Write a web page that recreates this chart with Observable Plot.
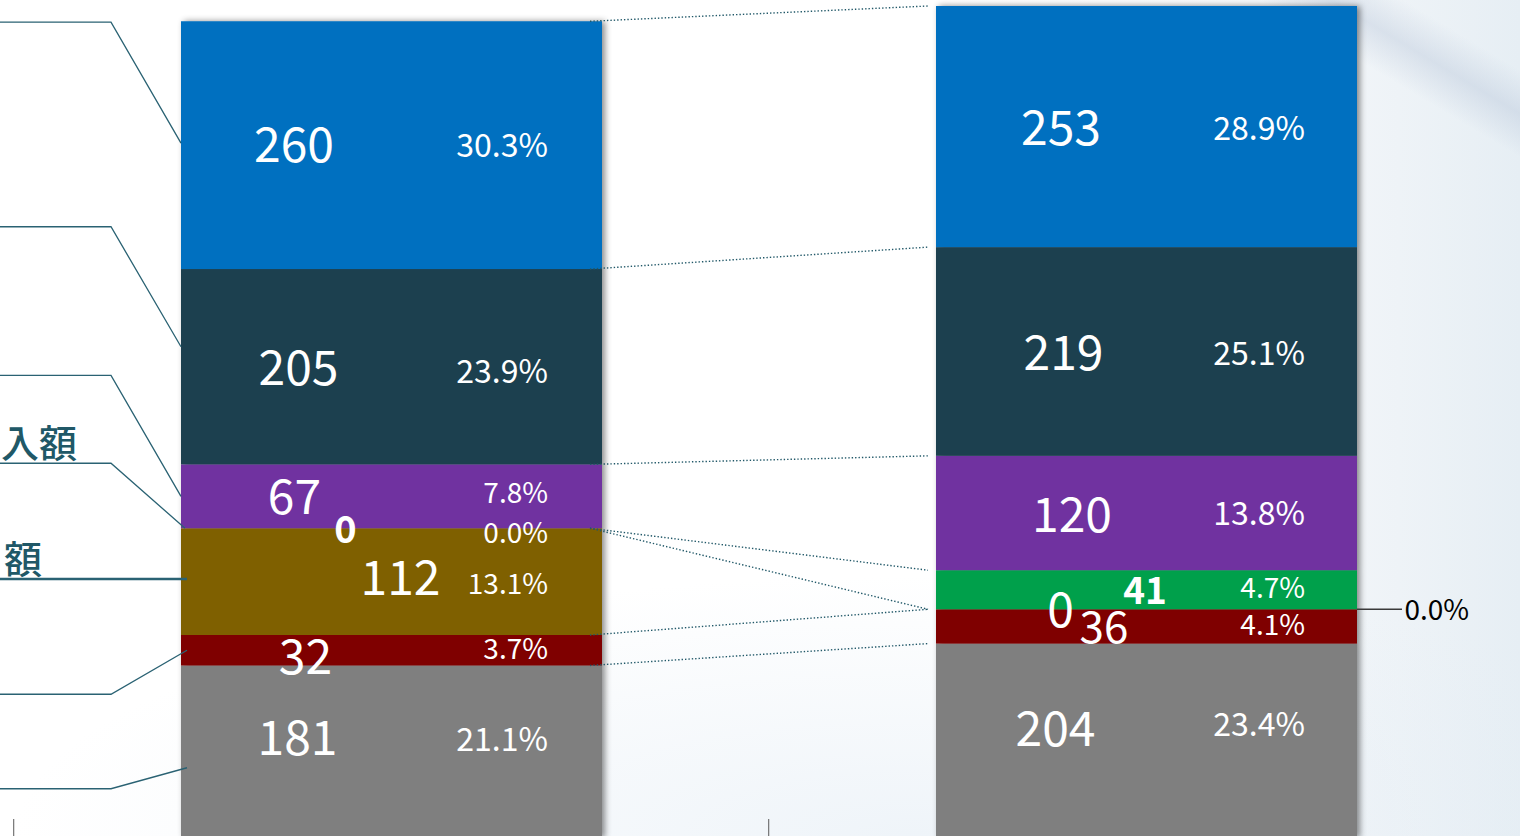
<!DOCTYPE html>
<html>
<head>
<meta charset="utf-8">
<script src="https://cdn.jsdelivr.net/npm/d3@7"></script>
<script src="https://cdn.jsdelivr.net/npm/@observablehq/plot@0.6"></script>
<style>
  html, body { margin: 0; padding: 0; overflow: hidden; }
  body {
    width: 1520px; height: 836px;
    background:
      linear-gradient(31deg, rgba(255,255,255,0) 91%, rgba(175,190,212,0.35) 93.5%, rgba(255,255,255,0) 96%),
      radial-gradient(ellipse 900px 260px at 60% 100%, rgba(228,237,245,0.6) 0%, rgba(255,255,255,0) 100%),
      linear-gradient(90deg, #ffffff 0%, #ffffff 62%, #f8fafc 80%, #eef3f7 92%, #e6eef4 100%);
  }
  #chart svg { display: block; }
</style>
</head>
<body>
<div id="chart"></div>
<script>
// ---------------- data ----------------
const bars = ["前期", "当期"];                      // two stacked columns (axis labels cropped out)
// series, bottom -> top
const series = ["s7", "s6", "s5", "s4", "s3", "s2", "s1"];
const valuesLeft  = [181, 32, 112, 0, 67, 205, 260];
const valuesRight = [204, 36, 0, 41, 120, 219, 253];
const pctLeft  = [21.1, 3.7, 13.1, 0.0, 7.8, 23.9, 30.3];
const pctRight = [23.4, 4.1, 0.0, 4.7, 13.8, 25.1, 28.9];
const colors = ["#7f7f7f", "#7f0000", "#7f6000", "#00a04b", "#7030a0", "#1b4050", "#0070c0"];
// visible part of the series-name labels at the left edge (series index -> text)
const seriesLabels = [{i: 3, text: "入額"}, {i: 2, text: "額"}];

// ---------------- layout (styles / offsets only) ----------------
const layoutLeft = {
  vdx: [-94.5, -86.5, 8.5, -46.5, -97.5, -93.5, -98],
  vdy: [-13, 7.5, -3, 2, 2, 2, 1],
  vsize: [48, 48, 48, 38, 48, 48, 48],
  vbold: [0, 0, 0, 1, 0, 0, 0],
  pdx: 156,
  pdy: [-11.6, -1, 2.4, 5.7, -2.4, 6, 1],
  psize: [32, 28, 28, 28, 28, 32, 32],
  pout: [0, 0, 0, 0, 0, 0, 0]
};
const layoutRight = {
  vdx: [-91.5, -43, -86.5, -2, -75, -83.5, -86],
  vdy: [-11, 2, 2, 2, 3, 2.3, 3],
  vsize: [48, 44, 48, 37, 48, 48, 48],
  vbold: [0, 0, 0, 1, 0, 0, 0],
  pdx: 158,
  pdy: [-16, -0.4, 1, -1.7, 1, 2.5, 2.4],
  psize: [32, 28, 28, 28, 32, 32, 32],
  pout: [0, 0, 1, 0, 0, 0, 0]
};
// left leader lines: offsets (px) from the segment middle at the left bar's left edge
const leaders = [
  {i: 6, endDx: 0, endDy: -2,   elbowDy: -121, w: 1.3},
  {i: 5, endDx: 0, endDy: -20,  elbowDy: -120, w: 1.3},
  {i: 4, endDx: 0, endDy: 0,    elbowDy: -121, w: 1.3},
  {i: 3, endDx: 4, endDy: 0,    elbowDy: -65,  w: 1.3},
  {i: 2, endDx: 6, endDy: -2.6, elbowDy: 0,    w: 2.6},
  {i: 1, endDx: 6, endDy: 0,    elbowDy: 44,   w: 1.3},
  {i: 0, endDx: 6, endDy: 16,   elbowDy: 21,   w: 1.3}
];

const W = 1520, H = 836;
const FONT = "'Noto Sans CJK JP', 'Noto Sans', sans-serif";
const marginLeft = 181, marginRight = 162.5, padInner = 0.4428;
const xb = d3.scaleBand().domain(bars).range([marginLeft, W - marginRight])
  .paddingInner(padInner).paddingOuter(0).align(0.5);
const bw = xb.bandwidth(), step = xb.step();

// stacked rows
const rows = [];
bars.forEach((b, bi) => {
  const vals = bi === 0 ? valuesLeft : valuesRight;
  const pcts = bi === 0 ? pctLeft : pctRight;
  let acc = 0;
  series.forEach((s, i) => {
    const v = vals[i];
    rows.push({bar: b, bi, series: s, i, value: v, pct: pcts[i],
      y1: acc, y2: acc + v, mid: acc + v / 2, color: colors[i]});
    acc += v;
  });
});
const rowOf = (bi, i) => rows.find(r => r.bi === bi && r.i === i);

const marks = [];
marks.push(Plot.barY(rows, {x: "bar", y1: "y1", y2: "y2", fill: "color"}));

// series lines (dotted connectors between stacked tops)
marks.push((index, scales) => {
  const g = d3.create("svg:g");
  const xA = scales.x(bars[0]) + bw, xB = scales.x(bars[1]);
  series.forEach((s, i) => {
    const a = rowOf(0, i), b = rowOf(1, i);
    g.append("line")
      .attr("x1", xA - 12).attr("x2", xB - 8)
      .attr("y1", scales.y(a.y2)).attr("y2", scales.y(b.y2))
      .attr("stroke", "#215868").attr("stroke-width", 1.4)
      .attr("stroke-dasharray", "1.4 2");
  });
  return g.node();
});

// value & percent labels
rows.forEach(r => {
  const L = r.bi === 0 ? layoutLeft : layoutRight;
  marks.push(Plot.text([r], {
    x: "bar", y: "mid", text: d => String(d.value),
    dx: L.vdx[r.i], dy: L.vdy[r.i], fontSize: L.vsize[r.i],
    fontWeight: L.vbold[r.i] ? "bold" : "normal",
    fill: "white", textAnchor: "middle", fontFamily: FONT
  }));
  if (L.pout[r.i]) {
    marks.push(Plot.text([r], {
      x: "bar", y: "y2", text: d => d.pct.toFixed(1) + "%",
      dx: bw / 2 + 47, dy: L.pdy[r.i], fontSize: L.psize[r.i],
      fill: "#000", textAnchor: "start", fontFamily: FONT
    }));
  } else {
    marks.push(Plot.text([r], {
      x: "bar", y: "mid", text: d => d.pct.toFixed(1) + "%",
      dx: L.pdx, dy: L.pdy[r.i], fontSize: L.psize[r.i],
      fill: "white", textAnchor: "end", fontFamily: FONT
    }));
  }
});

// leader for outside label + left leader lines + series-name labels + category boundary ticks
marks.push((index, scales, values, dims) => {
  const g = d3.create("svg:g");
  bars.forEach((b, bi) => {
    const L = bi === 0 ? layoutLeft : layoutRight;
    L.pout.forEach((o, i) => {
      if (!o) return;
      const r = rowOf(bi, i);
      const x0 = scales.x(b) + bw, y0 = scales.y(r.y2);
      g.append("line").attr("x1", x0).attr("x2", x0 + 45).attr("y1", y0).attr("y2", y0)
        .attr("stroke", "#3a3a3a").attr("stroke-width", 1.6);
    });
  });
  const left = scales.x(bars[0]);
  leaders.forEach(l => {
    const r = rowOf(0, l.i);
    const ex = left + l.endDx, ey = scales.y(r.mid) + l.endDy;
    const elx = left - 70, ely = ey + l.elbowDy;
    const pts = l.elbowDy === 0 ? [[left - 400, ey], [ex, ey]] : [[left - 400, ely], [elx, ely], [ex, ey]];
    g.append("path").attr("d", d3.line()(pts)).attr("fill", "none")
      .attr("stroke", "#2a6273").attr("stroke-width", l.w);
    const lab = seriesLabels.find(s => s.i === l.i);
    if (lab) {
      const endX = l.i === 3 ? left - 104 : left - 139;
      g.append("text").attr("x", endX).attr("y", ely - 6)
        .attr("text-anchor", "end").attr("font-family", FONT)
        .attr("font-size", 38).attr("font-weight", 500).attr("fill", "#205867")
        .text(lab.text);
    }
  });
  const yb = dims.height;
  [...bars.map(b => scales.x(b) - (step - bw) / 2), scales.x(bars[bars.length - 1]) + bw + (step - bw) / 2]
    .forEach(x => {
      g.append("line").attr("x1", x).attr("x2", x).attr("y1", yb - 17).attr("y2", yb)
        .attr("stroke", "#595959").attr("stroke-width", 1);
    });
  return g.node();
});

const plot = Plot.plot({
  width: W, height: H,
  marginLeft, marginRight, marginTop: 0, marginBottom: 0,
  style: {background: "transparent", fontFamily: FONT, overflow: "hidden"},
  x: {type: "band", domain: bars, paddingInner: padInner, paddingOuter: 0, align: 0.5, axis: null},
  y: {domain: [0, 879.3], range: [838, 0], axis: null},
  color: {type: "identity"},
  marks
});

// soft drop shadow on the columns
const svg = d3.select(plot);
const defs = svg.insert("defs", ":first-child");
const f = defs.append("filter").attr("id", "barShadow")
  .attr("x", "-5%").attr("y", "-5%").attr("width", "115%").attr("height", "110%");
f.append("feDropShadow").attr("dx", 3).attr("dy", 0).attr("stdDeviation", 3)
  .attr("flood-color", "#000").attr("flood-opacity", 0.45);
svg.select('g[aria-label="bar"]').attr("filter", "url(#barShadow)");

document.getElementById("chart").appendChild(plot);
</script>
</body>
</html>
